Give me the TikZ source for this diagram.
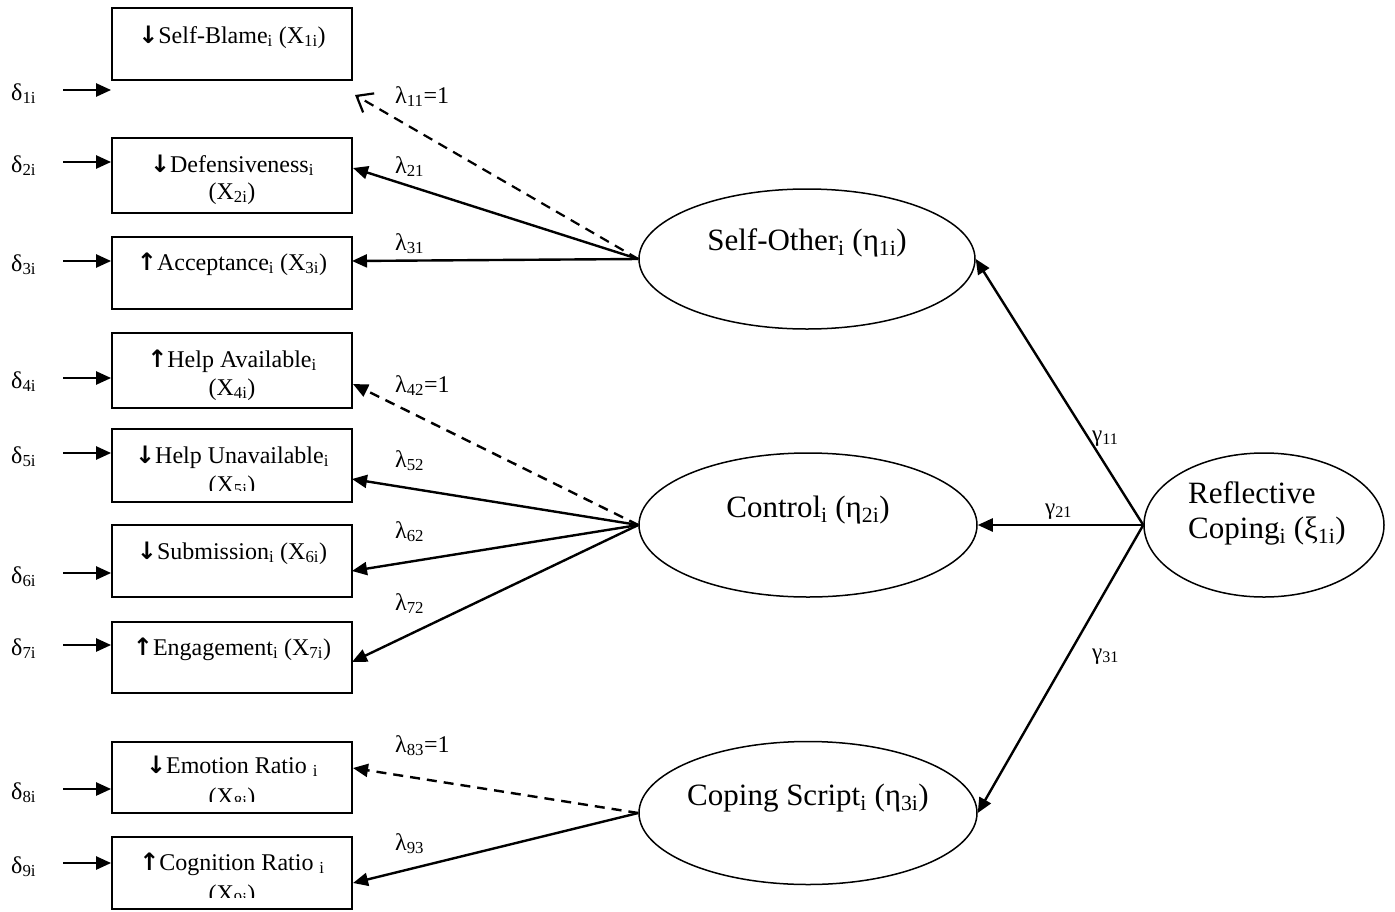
\documentclass[tikz,border=0pt]{standalone}
\usepackage{fontspec}
\setmainfont{Liberation Serif}
\newfontfamily\arrowfont{DejaVu Sans}
\usetikzlibrary{arrows.meta,shapes.geometric,calc}
\newcommand\lo[1]{\textsubscript{#1}}
\newcommand\dn{{\arrowfont\bfseries ↓}}
\newcommand\upa{{\arrowfont\bfseries ↑}}
\begin{document}
\begin{tikzpicture}[x=1pt,y=-1pt,
  box/.style={draw, rectangle, line width=1.8pt, minimum width=240pt, inner sep=0pt},
  ell/.style={draw, ellipse, line width=1.5pt, inner sep=0pt},
  btxt/.style={anchor=base, inner sep=0pt, font=\fontsize{24}{27}\selectfont},
  etxt/.style={anchor=base, inner sep=0pt, font=\fontsize{31}{35}\selectfont},
  ertxt/.style={anchor=base west, inner sep=0pt, font=\fontsize{31}{35}\selectfont},
  lab/.style={anchor=base west, inner sep=0pt, font=\fontsize{24}{27}\selectfont},
  glab/.style={anchor=base west, inner sep=0pt, font=\fontsize{23}{26}\selectfont},
  arr/.style={line width=2.4pt, -{Triangle[length=15pt,width=13pt]}},
  dsh/.style={dash pattern=on 10pt off 7pt},
  openarr/.style={line width=2.2pt, -{Straight Barb[length=14pt,width=22pt]}}
]
\useasboundingbox (0,0) rectangle (1395,911);

% boxes
\node[box, minimum height=72pt] (b1) at (232,44) {};
\node[box, minimum height=75pt] (b2) at (232,175.5) {};
\node[box, minimum height=72pt] (b3) at (232,273) {};
\node[box, minimum height=75pt] (b4) at (232,370.5) {};
\node[box, minimum height=73pt] (b5) at (232,465.5) {};
\node[box, minimum height=72pt] (b6) at (232,561) {};
\node[box, minimum height=71pt] (b7) at (232,657.5) {};
\node[box, minimum height=71pt] (b8) at (232,777.5) {};
\node[box, minimum height=72pt] (b9) at (232,873) {};

% box texts
\node[btxt] (t1) at (232,43) {\dn Self-Blame\lo{i} (X\lo{1i})};
\node[btxt] (t2a) at (232,172) {\dn Defensiveness\lo{i}};
\node[btxt] (t2b) at (232,199) {(X\lo{2i})};
\node[btxt] (t3) at (232,270) {\upa Acceptance\lo{i} (X\lo{3i})};
\node[btxt] (t4a) at (232,367) {\upa Help Available\lo{i}};
\node[btxt] (t4b) at (232,395) {(X\lo{4i})};
\node[btxt] (t5a) at (232,463) {\dn Help Unavailable\lo{i}};
\begin{scope}
  \clip (113,430) rectangle (351,490);
  \node[btxt] (t5b) at (232,492) {(X\lo{5i})};
\end{scope}
\node[btxt] (t6) at (232,559) {\dn Submission\lo{i} (X\lo{6i})};
\node[btxt] (t7) at (232,655) {\upa Engagement\lo{i} (X\lo{7i})};
\node[btxt] (t8a) at (232,773) {\dn Emotion Ratio \lo{i}};
\begin{scope}
  \clip (113,743) rectangle (351,801);
  \node[btxt] (t8b) at (232,804) {(X\lo{8i})};
\end{scope}
\node[btxt] (t9a) at (232,870) {\upa Cognition Ratio \lo{i}};
\begin{scope}
  \clip (113,838) rectangle (351,897);
  \node[btxt] (t9b) at (232,901) {(X\lo{9i})};
\end{scope}

% delta labels and arrows
\foreach \i/\yy in {1/90,2/162,3/261,4/378,5/453,6/573,7/645,8/789,9/863}{
  \node[lab] (d\i) at (11,\yy+10) {δ\lo{\i i}};
  \coordinate (s\i) at (63,\yy);
  \draw[arr] (s\i) -- (s\i -| b\i.west);
}

% ellipses
\node[ell, minimum width=336pt, minimum height=140pt] (so) at (807,259) {};
\node[etxt] (sot) at (807,250) {Self-Other\lo{i} (η\lo{1i})};
\node[ell, minimum width=338pt, minimum height=144pt] (ct) at (808,525) {};
\node[etxt] (ctt) at (808,517) {Control\lo{i} (η\lo{2i})};
\node[ell, minimum width=338pt, minimum height=143pt] (cs) at (808,813) {};
\node[etxt] (cst) at (808,805) {Coping Script\lo{i} (η\lo{3i})};
\node[ell, minimum width=240pt, minimum height=144pt] (rc) at (1264,525) {};
\node[ertxt] (rct1) at (1188,503) {Reflective};
\node[ertxt] (rct2) at (1188,538) {Coping\lo{i} (ξ\lo{1i})};

% arrow tips on boxes
\coordinate (p1) at (355,95);
\coordinate (p2) at (353,168);
\coordinate (p3) at (352,261);
\coordinate (p4) at (353,384);
\coordinate (p5) at (352,479);
\coordinate (p6) at (352,571);
\coordinate (p7) at (352,662);
\coordinate (p8) at (353,768);
\coordinate (p9) at (353,883);

% loadings
\draw[openarr, dsh] (so.west) -- (p1);
\draw[arr] (so.west) -- (p2);
\draw[arr] (so.west) -- (p3);
\draw[arr, dsh] (ct.west) -- (p4);
\draw[arr] (ct.west) -- (p5);
\draw[arr] (ct.west) -- (p6);
\draw[arr] (ct.west) -- (p7);
\draw[arr, dsh] (cs.west) -- (p8);
\draw[arr] (cs.west) -- (p9);

% structural paths
\draw[arr] (rc.west) -- (so.east);
\draw[arr] (rc.west) -- (ct.east);
\draw[arr] (rc.west) -- (cs.east);

% labels
\node[lab] (l11) at (395,103) {λ\lo{11}=1};
\node[lab] (l21) at (395,173) {λ\lo{21}};
\node[lab] (l31) at (395,250) {λ\lo{31}};
\node[lab] (l42) at (395,392) {λ\lo{42}=1};
\node[lab] (l52) at (395,467) {λ\lo{52}};
\node[lab] (l62) at (395,538) {λ\lo{62}};
\node[lab] (l72) at (395,610) {λ\lo{72}};
\node[lab] (l83) at (395,752) {λ\lo{83}=1};
\node[lab] (l93) at (395,850) {λ\lo{93}};
\node[glab] (g11) at (1092,441) {γ\lo{11}};
\node[glab] (g21) at (1045,514) {γ\lo{21}};
\node[glab] (g31) at (1092,659) {γ\lo{31}};
\end{tikzpicture}
\end{document}
